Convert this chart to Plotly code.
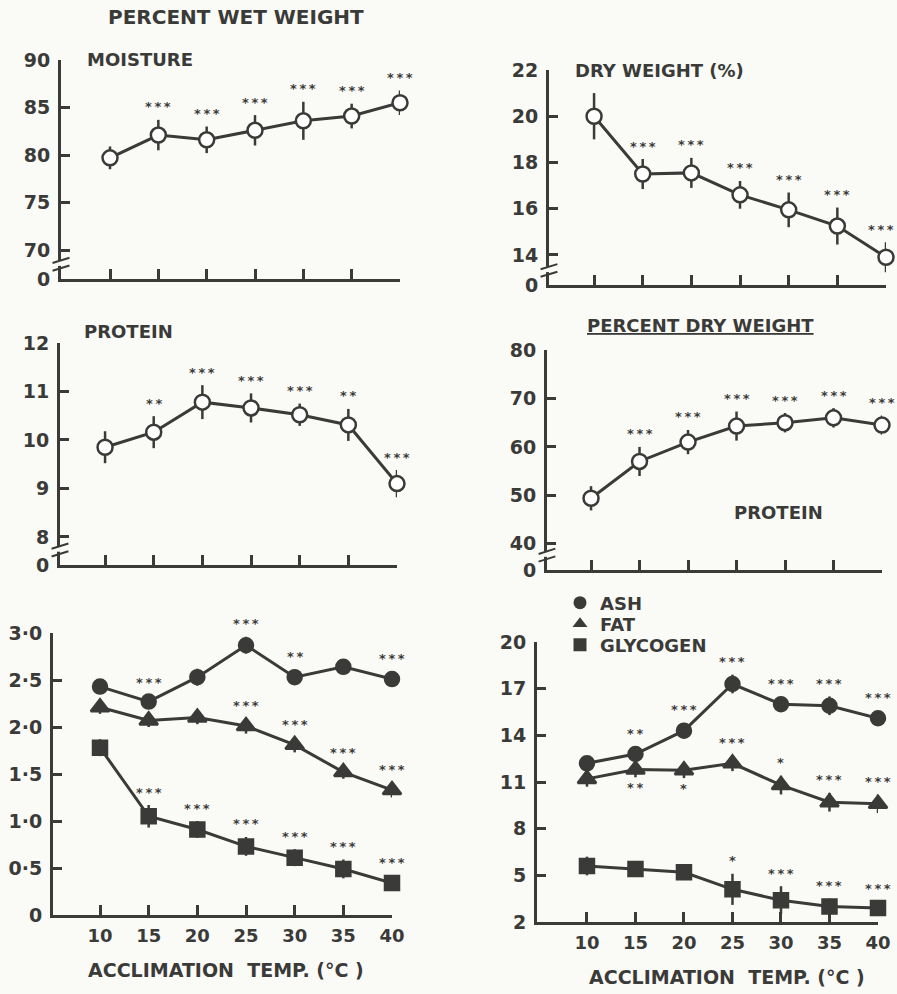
import plotly.graph_objects as go

# ---------------- data ----------------
temps = [10, 15, 20, 25, 30, 35, 40]
temp_labels = ["10", "15", "20", "25", "30", "35", "40"]

# Percent wet weight
moisture = [79.7, 82.1, 81.6, 82.6, 83.6, 84.1, 85.5]
moisture_err = [1.2, 1.6, 1.4, 1.6, 2.0, 1.3, 1.3]
moisture_sig = ["", "***", "***", "***", "***", "***", "***"]

dry_weight = [20.0, 17.5, 17.55, 16.6, 15.95, 15.25, 13.9]
dry_weight_err = [1.0, 0.65, 0.65, 0.6, 0.75, 0.8, 0.65]
dry_weight_sig = ["", "***", "***", "***", "***", "***", "***"]

protein_wet = [9.85, 10.16, 10.78, 10.66, 10.52, 10.31, 9.1]
protein_wet_err = [0.33, 0.33, 0.35, 0.3, 0.23, 0.33, 0.28]
protein_wet_sig = ["", "**", "***", "***", "***", "**", "***"]

protein_dry = [49.4, 57.0, 61.0, 64.3, 65.0, 66.0, 64.5]
protein_dry_err = [2.5, 3.0, 2.5, 3.0, 2.0, 2.0, 2.0]
protein_dry_sig = ["", "***", "***", "***", "***", "***", "***"]

# Ash / fat / glycogen, percent wet weight
ash_wet = [2.43, 2.27, 2.53, 2.87, 2.53, 2.64, 2.51]
ash_wet_err = [0.08, 0.07, 0.09, 0.09, 0.08, 0.08, 0.08]
ash_wet_sig = ["", "***", "", "***", "**", "", "***"]

fat_wet = [2.21, 2.07, 2.10, 2.01, 1.81, 1.52, 1.33]
fat_wet_err = [0.07, 0.07, 0.07, 0.08, 0.08, 0.07, 0.08]
fat_wet_sig = ["", "", "", "***", "***", "***", "***"]

glycogen_wet = [1.78, 1.05, 0.91, 0.73, 0.61, 0.49, 0.34]
glycogen_wet_err = [0.09, 0.12, 0.09, 0.1, 0.09, 0.1, 0.08]
glycogen_wet_sig = ["", "***", "***", "***", "***", "***", "***"]

# Ash / fat / glycogen, percent dry weight
ash_dry = [12.2, 12.8, 14.3, 17.3, 16.0, 15.9, 15.1]
ash_dry_err = [0.4, 0.5, 0.5, 0.6, 0.5, 0.6, 0.5]
ash_dry_sig = ["", "**", "***", "***", "***", "***", "***"]

fat_dry = [11.2, 11.8, 11.75, 12.2, 10.8, 9.7, 9.6]
fat_dry_err = [0.5, 0.5, 0.5, 0.5, 0.6, 0.6, 0.6]
fat_dry_sig = ["", "**", "*", "***", "*", "***", "***"]
fat_dry_sig_side = ["up", "down", "down", "up", "up", "up", "up"]

glycogen_dry = [5.6, 5.4, 5.2, 4.1, 3.4, 3.0, 2.9]
glycogen_dry_err = [0.6, 0.5, 0.5, 1.0, 0.9, 0.5, 0.4]
glycogen_dry_sig = ["", "", "", "*", "***", "***", "***"]

legend_names = ["ASH", "FAT", "GLYCOGEN"]

# tick labels
ticks_moisture = [70, 75, 80, 85, 90]
ticks_dry = [14, 16, 18, 20, 22]
ticks_prot_wet = [8, 9, 10, 11, 12]
ticks_prot_dry = [40, 50, 60, 70, 80]
ticks_wet3 = [0, 0.5, 1.0, 1.5, 2.0, 2.5, 3.0]
ticks_wet3_text = ["0", "0·5", "1·0", "1·5", "2·0", "2·5", "3·0"]
ticks_dry3 = [2, 5, 8, 11, 14, 17, 20]

# ---------------- styling ----------------
W, H = 897, 994
INK = "#3a3a38"
BG = "#fafaf7"
FONT = "DejaVu Sans"


def dom_x(a, b):
    return [a / W, b / W]


def dom_y(top, bottom):
    return [1 - bottom / H, 1 - top / H]


panels = {
    1: dict(px=(61, 400), py=(60, 279), xr=[4.93, 40], yr=[66.95, 90], brk=True,
            tv=ticks_moisture, tt=[str(v) for v in ticks_moisture], xlab=False),
    2: dict(px=(549, 886), py=(70, 285), xr=[5.37, 40], yr=[12.7, 22], brk=True,
            tv=ticks_dry, tt=[str(v) for v in ticks_dry], xlab=False),
    3: dict(px=(60, 397), py=(343, 565), xr=[5.37, 40], yr=[7.42, 12], brk=True,
            tv=ticks_prot_wet, tt=[str(v) for v in ticks_prot_wet], xlab=False),
    4: dict(px=(547, 882), py=(350, 570), xr=[5.46, 40], yr=[34.6, 80], brk=True,
            tv=ticks_prot_dry, tt=[str(v) for v in ticks_prot_dry], xlab=False),
    5: dict(px=(53, 392), py=(633, 915), xr=[5.17, 40], yr=[0, 3.0], brk=False,
            tv=ticks_wet3, tt=ticks_wet3_text, xlab=True),
    6: dict(px=(537, 878), py=(642, 922), xr=[4.85, 40], yr=[2, 20], brk=False,
            tv=ticks_dry3, tt=[str(v) for v in ticks_dry3], xlab=True),
}

fig = go.Figure()
annotations = []
shapes = []
THIN = "\u2009"


def add_series(i, y, err, sig, symbol, filled, size, side=None, name=None):
    ax = "" if i == 1 else str(i)
    p = panels[i]
    fig.add_trace(go.Scatter(
        x=temps, y=y, xaxis="x" + ax, yaxis="y" + ax,
        mode="lines+markers",
        line=dict(color=INK, width=3),
        marker=dict(symbol=symbol, size=size,
                    color=INK if filled else "white",
                    line=dict(color=INK, width=2.5)),
        error_y=dict(type="data", array=err, visible=True, color=INK,
                     thickness=2.5, width=0),
        cliponaxis=False, showlegend=False, name=name or "",
        hoverinfo="x+y",
    ))
    for k, s in enumerate(sig):
        if not s:
            continue
        down = side is not None and side[k] == "down"
        # keep star groups near the right page edge inside the page
        near_edge = p["px"][1] > W - 14 and k == len(temps) - 1
        annotations.append(dict(
            x=temps[k], y=(y[k] - err[k]) if down else (y[k] + err[k]),
            xref="x" + ax, yref="y" + ax, text=THIN.join(s), showarrow=False,
            yanchor="middle", xanchor="right" if near_edge else "center",
            xshift=(W - 1 - p["px"][1]) if near_edge else 0,
            yshift=-10 if down else 13,
            font=dict(family=FONT, size=13, color=INK, weight="bold"),
        ))


add_series(1, moisture, moisture_err, moisture_sig, "circle", False, 15)
add_series(2, dry_weight, dry_weight_err, dry_weight_sig, "circle", False, 15)
add_series(3, protein_wet, protein_wet_err, protein_wet_sig, "circle", False, 15)
add_series(4, protein_dry, protein_dry_err, protein_dry_sig, "circle", False, 15)

add_series(5, ash_wet, ash_wet_err, ash_wet_sig, "circle", True, 14)
add_series(5, fat_wet, fat_wet_err, fat_wet_sig, "triangle-up", True, 16)
add_series(5, glycogen_wet, glycogen_wet_err, glycogen_wet_sig, "square", True, 14)

add_series(6, ash_dry, ash_dry_err, ash_dry_sig, "circle", True, 14)
add_series(6, fat_dry, fat_dry_err, fat_dry_sig, "triangle-up", True, 16, side=fat_dry_sig_side)
add_series(6, glycogen_dry, glycogen_dry_err, glycogen_dry_sig, "square", True, 14)

# legend-only entries, one small legend each so the rows sit close together
legend_ids = ["legend", "legend2", "legend3"]
for nm, sym, lid in zip(legend_names, ["circle", "triangle-up", "square"], legend_ids):
    fig.add_trace(go.Scatter(x=[None], y=[None], xaxis="x6", yaxis="y6", mode="markers",
                             marker=dict(symbol=sym, size=13, color=INK), name=nm,
                             showlegend=True, legend=lid))

TICKFONT = dict(family=FONT, size=19, color=INK, weight="bold")

layout = {}
for i, p in panels.items():
    ax = "" if i == 1 else str(i)
    tv = list(p["tv"])
    tt = list(p["tt"])
    if p["brk"]:
        tv = [p["yr"][0]] + tv
        tt = ["0"] + tt
    layout["xaxis" + ax] = dict(
        domain=dom_x(*p["px"]), range=p["xr"], anchor="y" + ax,
        showline=True, linecolor=INK, linewidth=3, showgrid=False, zeroline=False,
        ticks="inside", ticklen=10, tickwidth=2.5, tickcolor=INK,
        tickvals=temps, ticktext=temp_labels, showticklabels=p["xlab"],
        ticklabelstandoff=2, automargin=False,
        tickfont=dict(family=FONT, size=18, color=INK, weight="bold"),
        fixedrange=True,
    )
    layout["yaxis" + ax] = dict(
        domain=dom_y(*p["py"]), range=p["yr"], anchor="x" + ax,
        showline=True, linecolor=INK, linewidth=3, showgrid=False, zeroline=False,
        ticks="inside", ticklen=9, tickwidth=2.5, tickcolor=INK,
        tickvals=tv, ticktext=tt, ticklabelstandoff=4, automargin=False,
        tickfont=TICKFONT,
        fixedrange=True,
    )
    if p["brk"]:
        # axis break marks just above the x axis
        shapes.append(dict(type="rect", xref="x" + ax + " domain", yref="y" + ax + " domain",
                           x0=-0.012, x1=0.012, y0=0.06, y1=0.085,
                           fillcolor=BG, line=dict(width=0), layer="above"))
        for y0 in (0.05, 0.085):
            shapes.append(dict(type="line", xref="x" + ax + " domain", yref="y" + ax + " domain",
                               x0=-0.025, x1=0.025, y0=y0 - 0.012, y1=y0 + 0.012,
                               line=dict(color=INK, width=2), layer="above"))

TXT = dict(family=FONT, color=INK, weight="bold")


def note(text, x, y, size, xref="paper", yref="paper", xanchor="center"):
    return dict(text=text, x=x, y=y, xref=xref, yref=yref, xanchor=xanchor,
                yanchor="middle", showarrow=False, font=dict(size=size, **TXT))


annotations += [
    note("PERCENT WET WEIGHT", 236 / W, 1 - 17 / H, 20),
    note("MOISTURE", 0.07, 1.0, 18, "x domain", "y domain", "left"),
    note("DRY WEIGHT (%)", 0.07, 1.0, 18, "x2 domain", "y2 domain", "left"),
    note("PROTEIN", 0.065, 1.05, 18, "x3 domain", "y3 domain", "left"),
    note("<u>PERCENT DRY WEIGHT</u>", 700 / W, 1 - 325 / H, 18),
    note("PROTEIN", 778 / W, 1 - 512 / H, 18),
    note("ACCLIMATION  TEMP. (°C )", 226 / W, 1 - 970 / H, 19),
    note("ACCLIMATION  TEMP. (°C )", 727 / W, 1 - 977 / H, 19),
]

legend_rows_px = [603, 624, 645]
for lid, ypx in zip(legend_ids, legend_rows_px):
    layout[lid] = dict(x=560 / W, y=1 - ypx / H, xanchor="left", yanchor="middle",
                       bgcolor="rgba(0,0,0,0)", itemsizing="trace",
                       font=dict(family=FONT, size=18, color=INK, weight="bold"),
                       itemclick=False, itemdoubleclick=False)

fig.update_layout(
    **layout,
    width=W, height=H, autosize=False,
    margin=dict(l=0, r=0, t=0, b=0, pad=0, autoexpand=False),
    paper_bgcolor=BG, plot_bgcolor=BG,
    font=dict(family=FONT, color=INK),
    showlegend=True,
    annotations=annotations,
    shapes=shapes,
)

fig.write_html(
    "out.html",
    config={"displayModeBar": False},
    post_script="document.body.style.margin='0';document.body.style.overflow='hidden';",
)
